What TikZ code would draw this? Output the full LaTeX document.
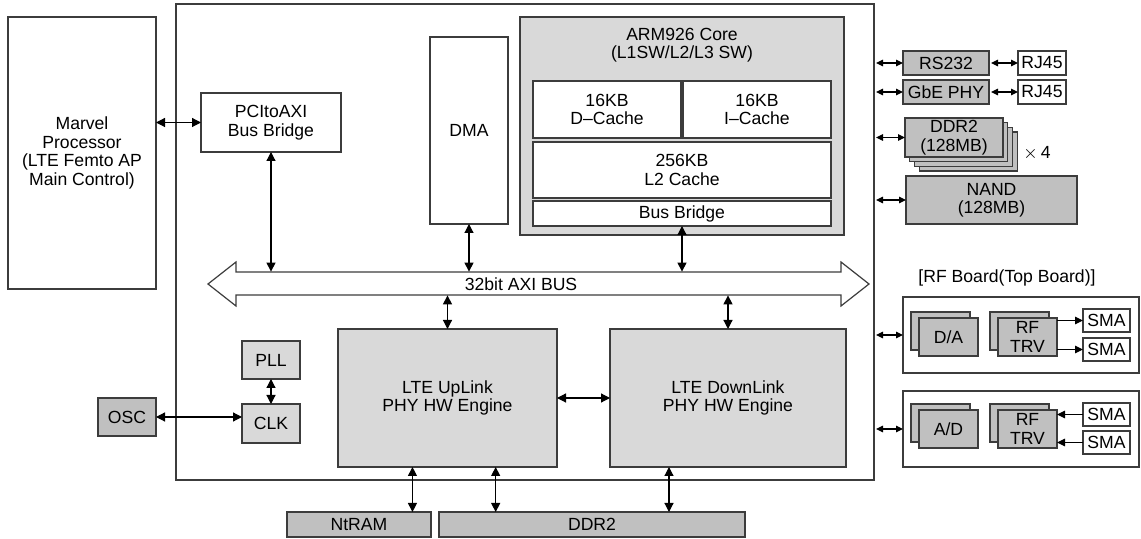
\documentclass[tikz,border=0pt]{standalone}
\usepackage{fontspec}
\setmainfont{Liberation Sans}
\usetikzlibrary{arrows.meta,calc}
\definecolor{lgray}{RGB}{217,217,217}
\definecolor{dgray}{RGB}{192,192,192}
\definecolor{edgec}{RGB}{60,60,60}

\begin{document}
\begin{tikzpicture}[x=0.5pt,y=-0.5pt,% one unit is one pixel of the sketch, y runs downwards
		every node/.style={
			align=center,	% so that "\\" breaks the line
			font=\fontsize{8.8}{9.2}\selectfont
		},
		every edge/.style={draw,line width=0.6pt},
		span/.style args={#1/#2/#3/#4}{% corners of a block
			at={({((#1)+(#3))/2},{((#2)+(#4))/2})},
			minimum width={((#3)-(#1))*0.5pt},
			minimum height={((#4)-(#2))*0.5pt}
		},
		blk/.style={rectangle,draw=edgec,line width=0.6pt,inner sep=0pt,outer sep=0pt},
		wbox/.style={blk,fill=white},
		lbox/.style={blk,fill=lgray},
		dbox/.style={blk,fill=dgray},
		link/.style={{Triangle[length=4.5pt,width=4.5pt]}-{Triangle[length=4.5pt,width=4.5pt]}},
		slink/.style={{Triangle[length=3.5pt,width=3.3pt]}-{Triangle[length=3.5pt,width=3.3pt]},shorten <=1pt},
		tolink/.style={-{Triangle[length=4pt,width=3.8pt]}}
	]
	\useasboundingbox (0,0) rectangle (1141,539);

	% host and SoC
	\node[wbox,span=8/17/156/289](marvel){Marvel\\Processor\\(LTE Femto AP\\Main Control)};
	\node[wbox,line width=0.7pt,span=176/4/874/480](soc){};
	\node[wbox,span=201/93/341/152](pci){PCItoAXI\\Bus Bridge};
	\node[wbox,span=430/37/508/224](dma){DMA};
	\node[lbox,span=520/17/844/235](arm){};
	\node(armT) at (682,45){ARM926 Core\\(L1SW/L2/L3 SW)};
	\node[wbox,span=533/81/681/138](dcache){16KB\\D–Cache};
	\node[wbox,span=683/81/831/138](icache){16KB\\I–Cache};
	\node[wbox,span=533/142/831/198](l2){256KB\\L2 Cache};
	\node[wbox,span=533/201/831/226](bb){Bus Bridge};

	% AXI bus
	\draw[blk,fill=white] (208,284) -- (236,262) -- (236,272) -- (841,272) -- (841,262) -- (869,284)
		-- (841,306) -- (841,295) -- (236,295) -- (236,306) -- cycle;
	\node[inner sep=0pt,span=236/272/841/295](bus){};
	\node(busT) at (521,284){32bit AXI BUS};

	\node[lbox,span=242/341/300/379](pll){PLL};
	\node[lbox,span=242/404/300/443](clk){CLK};
	\node[dbox,span=98/398/156/436](osc){OSC};
	\node[lbox,span=338/329/557/467](up){LTE UpLink\\PHY HW Engine};
	\node[lbox,span=610/329/846/467](down){LTE DownLink\\PHY HW Engine};
	\node[dbox,span=287/512/431/537](ntram){NtRAM};
	\node[dbox,span=439/512/745/537](ddr){DDR2};

	% peripherals
	\node[dbox,span=903/51/989/75](rs){RS232};
	\node[wbox,span=1018/51/1066/75](rjA){RJ45};
	\node[dbox,span=903/80/989/104](gbe){GbE PHY};
	\node[wbox,span=1018/80/1066/104](rjB){RJ45};
	\foreach \i in {3,2,1}
		\node[dbox,span={905+\i*4.7}/{118+\i*4.7}/{1003+\i*4.7}/{157+\i*4.7}](ddrS\i){};
	\node[dbox,span=905/118/1003/157](ddrX){DDR2\\(128MB)};
	\node(times) at (1037,153){$\times$\,4};
	\node[dbox,span=906/176/1077/224](nand){NAND\\(128MB)};

	% RF board
	\node(rfT) at (1007,278){[RF Board(Top Board)]};
	\node[wbox,span=903/297/1139/373](rfA){};
	\node[wbox,span=903/391/1139/467](rfB){};
	\node[dbox,span=911/312/970/350](daB){};
	\node[dbox,span=919/318/978/356](da){D/A};
	\node[dbox,span=990/312/1049/350](trvAB){};
	\node[dbox,span=998/318/1057/356](trvA){RF\\TRV};
	\node[dbox,span=911/404/970/442](adB){};
	\node[dbox,span=919/410/978/448](ad){A/D};
	\node[dbox,span=990/404/1049/442](trvBB){};
	\node[dbox,span=998/410/1057/448](trvB){RF\\TRV};
	\node[wbox,span=1083/309/1130/332](smaA){SMA};
	\node[wbox,span=1083/338/1130/361](smaB){SMA};
	\node[wbox,span=1083/403/1130/426](smaC){SMA};
	\node[wbox,span=1083/431/1130/454](smaD){SMA};

	\coordinate(u1) at ($(up.south west)!0.34!(up.south east)$);
	\coordinate(u2) at ($(up.south west)!0.72!(up.south east)$);
	\coordinate(d1) at ($(down.south west)!0.25!(down.south east)$);

	\path
		(marvel.east |- pci.west) edge[link] (pci.west)
		(pci.south) edge[link] (pci.south |- bus.north)
		(dma.south) edge[link] (dma.south |- bus.north)
		(bb.south) edge[link] (bb.south |- bus.north)
		(bus.south -| up.north) edge[link] (up.north)
		(bus.south -| down.north) edge[link] (down.north)
		(up.east) edge[link] (down.west)
		(pll.south) edge[link] (clk.north)
		(osc.east) edge[link] (osc.east -| clk.west)
		(u1) edge[link] (u1 |- ntram.north)
		(u2) edge[link] (u2 |- ddr.north)
		(d1) edge[link] (d1 |- ddr.north)
		;
	\path
		(soc.east |- rs.west) edge[slink] (rs.west)
		(soc.east |- gbe.west) edge[slink] (gbe.west)
		(soc.east |- ddrX.west) edge[slink] (ddrX.west)
		(soc.east |- nand.west) edge[slink] (nand.west)
		(soc.east |- rfA.west) edge[slink] (rfA.west)
		(soc.east |- rfB.west) edge[slink] (rfB.west)
		(rs.east) edge[slink] (rjA.west)
		(gbe.east) edge[slink] (rjB.west)
		;
	\path
		(trvA.east |- smaA.west) edge[tolink] (smaA.west)
		(trvA.east |- smaB.west) edge[tolink] (smaB.west)
		(smaC.west) edge[tolink] (trvB.east |- smaC.west)
		(smaD.west) edge[tolink] (trvB.east |- smaD.west)
		;
\end{tikzpicture}
\end{document}
